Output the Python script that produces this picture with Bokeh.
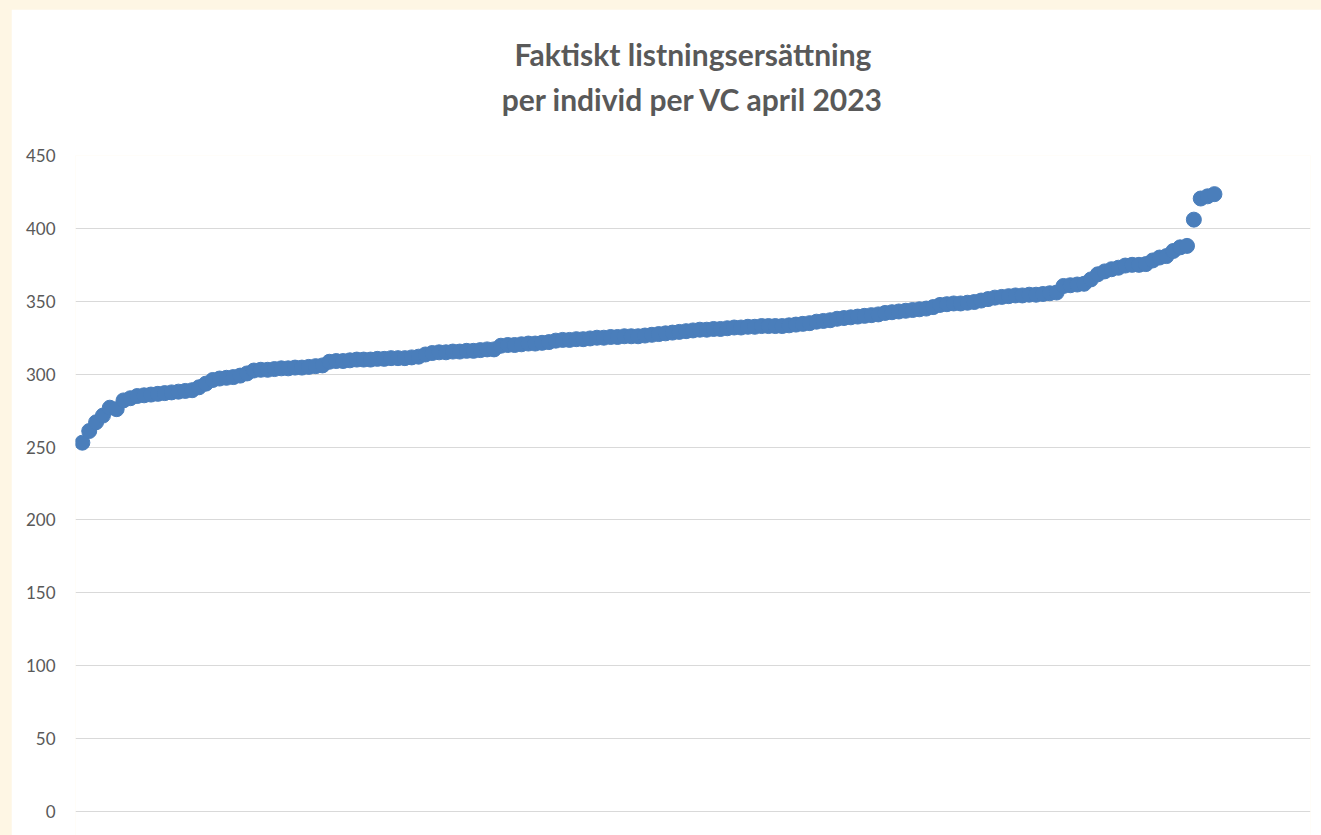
from bokeh.plotting import figure
from bokeh.models import Range1d, Title, FixedTicker, ColumnDataSource
from bokeh.embed import file_html
from bokeh.resources import INLINE

title_lines = ["Faktiskt listningsersättning", "per individ per VC april 2023"]
y_ticks = [0, 50, 100, 150, 200, 250, 300, 350, 400, 450]

ersattning = [
    253, 261, 267, 271.6, 277, 276, 282, 283.5, 285, 285.5,
    286, 286.5, 287, 287.5, 288, 288.5, 289, 291, 293.5, 296,
    297, 297.5, 298, 299, 300.5, 302.5, 303, 303, 303.5, 304,
    304, 304.5, 304.5, 305, 305.5, 306, 308.5, 309, 309, 309.5,
    310, 310, 310, 310.5, 310.5, 311, 311, 311, 311.5, 312,
    313.5, 314.5, 315, 315, 315.5, 315.5, 316, 316, 316.5, 317,
    317, 319.5, 320, 320, 320.5, 321, 321, 321.5, 322, 323,
    323.5, 323.5, 324, 324, 324.5, 325, 325, 325.5, 325.5, 326,
    326, 326, 326.5, 327, 327.5, 328, 328.5, 329, 329.5, 330,
    330.5, 330.5, 331, 331, 331.5, 332, 332, 332.5, 332.5, 333,
    333, 333, 333, 333.5, 334, 334.5, 335, 336, 336.5, 337,
    338, 338.5, 339, 339.5, 340, 340.5, 341, 342, 342.5, 343,
    343.5, 344, 344.5, 345, 346, 347.5, 348, 348.5, 348.5, 349,
    349.5, 350.5, 351.5, 352.5, 353, 353.5, 354, 354, 354.5, 354.5,
    355, 355.5, 356, 360.5, 361, 361.5, 362, 365, 368.5, 370.5,
    372, 373, 374.5, 375, 375, 375.5, 378, 380, 381, 384.5,
    387, 388, 406, 420.5, 422, 423.5,
]
vc_index = list(range(1, len(ersattning) + 1))

source = ColumnDataSource(data=dict(vc=vc_index, val=ersattning))

# frame: x 75..1310, y 155..835 on screen; 450 units = 656 px
px_per_unit = 656 / 450
y_start = -(835 - 811) / px_per_unit

p = figure(width=1310, height=826, output_backend="svg", toolbar_location=None,
           title=None,
           x_range=Range1d(0, 180), y_range=Range1d(y_start, 450),
           min_border_left=64, min_border_right=11, min_border_top=146,
           min_border_bottom=0,
           background_fill_color="white", border_fill_color="white",
           outline_line_color=None)
p.margin = (9, 0, 0, 11)

# hide the default bottom x axis
for ax in p.below:
    ax.visible = False

# blank spacer row between the plot area and the two title lines
spacer = Title(text=" ", align="center", text_font="Lato", text_font_size="10px",
               text_color="white", standoff=21)
p.add_layout(spacer, "above")

for txt in [title_lines[1], title_lines[0]]:
    t = Title(text=txt, align="center", text_font="Lato", text_font_size="30px",
              text_font_style="bold", text_color="#595959", standoff=7)
    p.add_layout(t, "above")

p.xgrid.grid_line_color = None
p.ygrid.grid_line_color = "#D9D9D9"
p.ygrid.grid_line_width = 1
p.yaxis.ticker = FixedTicker(ticks=y_ticks)
p.yaxis.axis_line_color = None
p.yaxis.major_tick_line_color = None
p.yaxis.minor_tick_line_color = None
p.yaxis.major_label_text_font = "Lato"
p.yaxis.major_label_text_font_size = "17px"
p.yaxis.major_label_text_color = "#595959"
p.yaxis.major_label_standoff = 14

p.scatter(x="vc", y="val", source=source, size=15,
          fill_color="#4A7EBB", line_color="#4A7EBB")

html = file_html(p, INLINE)
html = html.replace("</head>",
                    "<style>html, body { background-color: #FEF6E4; }</style>\n</head>", 1)
open("out.html", "w").write(html)
